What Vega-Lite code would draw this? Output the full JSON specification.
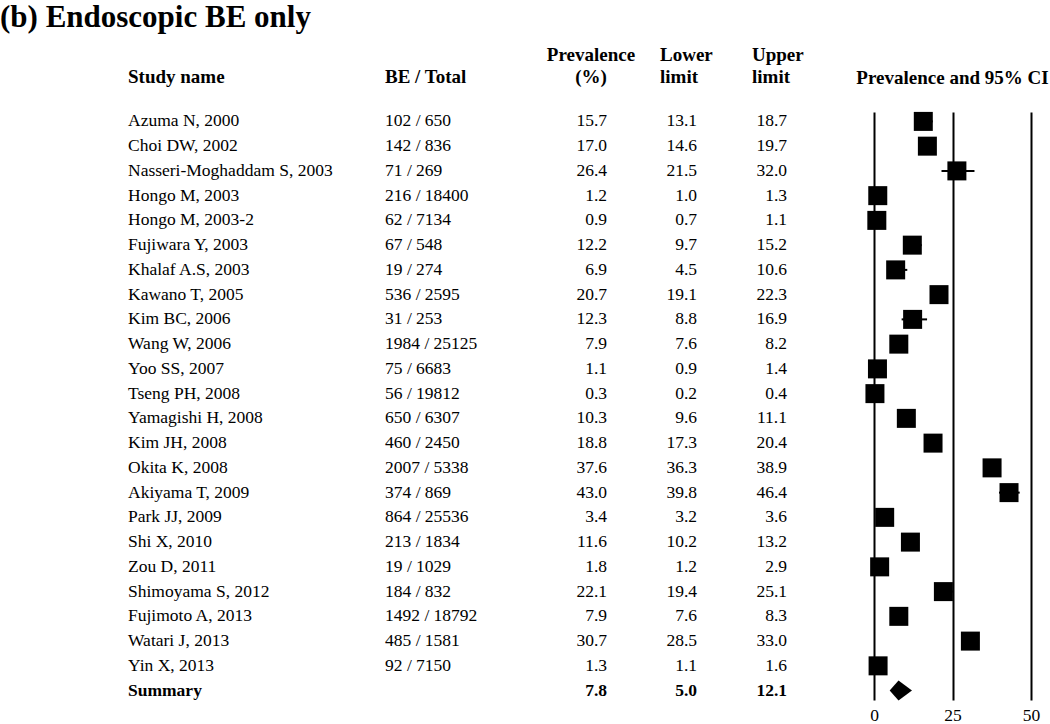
{
  "$schema": "https://vega.github.io/schema/vega-lite/v6.json",
  "padding": {"top": 2, "left": 0, "right": 0, "bottom": 0},
  "background": "white",
  "bounds": "flush",
  "spacing": 0,
  "title": {"text": "(b) Endoscopic BE only", "anchor": "start", "fontSize": 31, "fontWeight": "bold", "font": "Liberation Serif", "color": "black", "offset": 12},
  "config": {"view": {"stroke": null}, "font": "Liberation Serif"},
  "datasets": {
    "rows": [
      {"study": "Azuma N, 2000", "ratio": "102 / 650", "prev": 15.7, "lower": 13.1, "upper": 18.7},
      {"study": "Choi DW, 2002", "ratio": "142 / 836", "prev": 17.0, "lower": 14.6, "upper": 19.7},
      {"study": "Nasseri-Moghaddam S, 2003", "ratio": "71 / 269", "prev": 26.4, "lower": 21.5, "upper": 32.0},
      {"study": "Hongo M, 2003", "ratio": "216 / 18400", "prev": 1.2, "lower": 1.0, "upper": 1.3},
      {"study": "Hongo M, 2003-2", "ratio": "62 / 7134", "prev": 0.9, "lower": 0.7, "upper": 1.1},
      {"study": "Fujiwara Y, 2003", "ratio": "67 / 548", "prev": 12.2, "lower": 9.7, "upper": 15.2},
      {"study": "Khalaf A.S, 2003", "ratio": "19 / 274", "prev": 6.9, "lower": 4.5, "upper": 10.6},
      {"study": "Kawano T, 2005", "ratio": "536 / 2595", "prev": 20.7, "lower": 19.1, "upper": 22.3},
      {"study": "Kim BC, 2006", "ratio": "31 / 253", "prev": 12.3, "lower": 8.8, "upper": 16.9},
      {"study": "Wang W, 2006", "ratio": "1984 / 25125", "prev": 7.9, "lower": 7.6, "upper": 8.2},
      {"study": "Yoo SS, 2007", "ratio": "75 / 6683", "prev": 1.1, "lower": 0.9, "upper": 1.4},
      {"study": "Tseng PH, 2008", "ratio": "56 / 19812", "prev": 0.3, "lower": 0.2, "upper": 0.4},
      {"study": "Yamagishi H, 2008", "ratio": "650 / 6307", "prev": 10.3, "lower": 9.6, "upper": 11.1},
      {"study": "Kim JH, 2008", "ratio": "460 / 2450", "prev": 18.8, "lower": 17.3, "upper": 20.4},
      {"study": "Okita K, 2008", "ratio": "2007 / 5338", "prev": 37.6, "lower": 36.3, "upper": 38.9},
      {"study": "Akiyama T, 2009", "ratio": "374 / 869", "prev": 43.0, "lower": 39.8, "upper": 46.4},
      {"study": "Park JJ, 2009", "ratio": "864 / 25536", "prev": 3.4, "lower": 3.2, "upper": 3.6},
      {"study": "Shi X, 2010", "ratio": "213 / 1834", "prev": 11.6, "lower": 10.2, "upper": 13.2},
      {"study": "Zou D, 2011", "ratio": "19 / 1029", "prev": 1.8, "lower": 1.2, "upper": 2.9},
      {"study": "Shimoyama S, 2012", "ratio": "184 / 832", "prev": 22.1, "lower": 19.4, "upper": 25.1},
      {"study": "Fujimoto A, 2013", "ratio": "1492 / 18792", "prev": 7.9, "lower": 7.6, "upper": 8.3},
      {"study": "Watari J, 2013", "ratio": "485 / 1581", "prev": 30.7, "lower": 28.5, "upper": 33.0},
      {"study": "Yin X, 2013", "ratio": "92 / 7150", "prev": 1.3, "lower": 1.1, "upper": 1.6},
      {"study": "Summary", "ratio": "", "prev": 7.8, "lower": 5.0, "upper": 12.1}
    ],
    "headers": [
      {"col": "study", "line": "2", "h": "Study name"},
      {"col": "ratio", "line": "2", "h": "BE / Total"},
      {"col": "prev", "line": "1", "h": "Prevalence"},
      {"col": "prev", "line": "2", "h": "(%)"},
      {"col": "lower", "line": "1", "h": "Lower"},
      {"col": "lower", "line": "2", "h": "limit"},
      {"col": "upper", "line": "1", "h": "Upper"},
      {"col": "upper", "line": "2", "h": "limit"}
    ]
  },
  "hconcat": [
    {
      "width": 874,
      "height": 588,
      "layer": [
        {
          "data": {"name": "rows"},
          "encoding": {"y": {"field": "study", "type": "nominal", "sort": null, "scale": {"type": "point", "padding": 0.38}, "axis": null}},
          "layer": [
            {
              "transform": [{"filter": "datum.study !== 'Summary'"}, {"fold": ["study", "ratio"], "as": ["col", "val"]}],
              "mark": {"type": "text", "align": "left", "baseline": "middle", "font": "Liberation Serif", "fontSize": 17.5, "color": "black"},
              "encoding": {
                "x": {"field": "col", "type": "nominal", "scale": {"type": "point", "domain": ["study", "ratio"], "range": [128, 385], "padding": 0}, "axis": null},
                "text": {"field": "val", "type": "nominal"}
              }
            },
            {
              "transform": [{"filter": "datum.study === 'Summary'"}, {"fold": ["study"], "as": ["col", "val"]}],
              "mark": {"type": "text", "align": "left", "baseline": "middle", "font": "Liberation Serif", "fontSize": 17.5, "fontWeight": "bold", "color": "black"},
              "encoding": {
                "x": {"field": "col", "type": "nominal", "scale": {"type": "point", "domain": ["study", "ratio"], "range": [128, 385], "padding": 0}, "axis": null},
                "text": {"field": "val", "type": "nominal"}
              }
            },
            {
              "transform": [{"filter": "datum.study !== 'Summary'"}, {"fold": ["prev", "lower", "upper"], "as": ["col", "val"]}],
              "mark": {"type": "text", "align": "right", "baseline": "middle", "font": "Liberation Serif", "fontSize": 17.5, "color": "black"},
              "encoding": {
                "x": {"field": "col", "type": "nominal", "scale": {"type": "point", "domain": ["prev", "lower", "upper"], "range": [607, 787], "padding": 0}, "axis": null},
                "text": {"field": "val", "type": "quantitative", "format": ".1f"}
              }
            },
            {
              "transform": [{"filter": "datum.study === 'Summary'"}, {"fold": ["prev", "lower", "upper"], "as": ["col", "val"]}],
              "mark": {"type": "text", "align": "right", "baseline": "middle", "font": "Liberation Serif", "fontSize": 17.5, "fontWeight": "bold", "color": "black"},
              "encoding": {
                "x": {"field": "col", "type": "nominal", "scale": {"type": "point", "domain": ["prev", "lower", "upper"], "range": [607, 787], "padding": 0}, "axis": null},
                "text": {"field": "val", "type": "quantitative", "format": ".1f"}
              }
            }
          ],
          "resolve": {"scale": {"x": "independent"}}
        },
        {
          "data": {"name": "headers"},
          "encoding": {"y": {"field": "line", "type": "ordinal", "scale": {"type": "point", "domain": ["1", "2"], "range": [-57, -35], "padding": 0}, "axis": null}},
          "layer": [
            {
              "transform": [{"filter": "datum.col === 'study' || datum.col === 'ratio'"}],
              "mark": {"type": "text", "align": "left", "baseline": "middle", "font": "Liberation Serif", "fontSize": 19, "fontWeight": "bold", "color": "black"},
              "encoding": {
                "x": {"field": "col", "type": "nominal", "scale": {"type": "point", "domain": ["study", "ratio"], "range": [128, 385], "padding": 0}, "axis": null},
                "text": {"field": "h", "type": "nominal"}
              }
            },
            {
              "transform": [{"filter": "datum.col === 'lower' || datum.col === 'upper'"}],
              "mark": {"type": "text", "align": "left", "baseline": "middle", "font": "Liberation Serif", "fontSize": 19, "fontWeight": "bold", "color": "black"},
              "encoding": {
                "x": {"field": "col", "type": "nominal", "scale": {"type": "point", "domain": ["lower", "upper"], "range": [660, 752], "padding": 0}, "axis": null},
                "text": {"field": "h", "type": "nominal"}
              }
            },
            {
              "transform": [{"filter": "datum.col === 'prev'"}],
              "mark": {"type": "text", "align": "center", "baseline": "middle", "font": "Liberation Serif", "fontSize": 19, "fontWeight": "bold", "color": "black"},
              "encoding": {
                "x": {"field": "col", "type": "nominal", "scale": {"type": "point", "domain": ["prev"], "range": [591, 591], "padding": 0}, "axis": null},
                "text": {"field": "h", "type": "nominal"}
              }
            }
          ],
          "resolve": {"scale": {"x": "independent"}}
        }
      ],
      "resolve": {"scale": {"x": "independent", "y": "independent"}}
    },
    {
      "width": 157,
      "height": 588,
      "title": {"text": "Prevalence and 95% CI", "fontSize": 19, "fontWeight": "bold", "font": "Liberation Serif", "color": "black", "offset": 24, "anchor": "middle"},
      "data": {"name": "rows"},
      "encoding": {"y": {"field": "study", "type": "nominal", "sort": null, "scale": {"type": "point", "padding": 0.38}, "axis": null}},
      "layer": [
        {
          "transform": [{"filter": "datum.study !== 'Summary'"}],
          "mark": {"type": "rule", "color": "black", "strokeWidth": 2},
          "encoding": {
            "x": {"field": "lower", "type": "quantitative", "scale": {"domain": [0, 50], "nice": false, "zero": false},
                  "axis": {"values": [0, 25, 50], "grid": true, "gridColor": "black", "gridWidth": 2, "gridOpacity": 1, "domain": false, "ticks": false, "labelFont": "Liberation Serif", "labelFontSize": 17.5, "labelColor": "black", "labelPadding": 6, "labelFlush": false, "labelOverlap": false, "labelBound": false, "title": null}},
            "x2": {"field": "upper"}
          }
        },
        {
          "transform": [{"filter": "datum.study !== 'Summary'"}],
          "mark": {"type": "point", "shape": "square", "size": 361, "filled": true, "color": "black", "opacity": 1, "strokeWidth": 0},
          "encoding": {"x": {"field": "prev", "type": "quantitative"}}
        },
        {
          "transform": [{"filter": "datum.study === 'Summary'"}],
          "mark": {"type": "point", "shape": "M-0.88,0L0,-1L1.35,0L0,1Z", "size": 400, "filled": true, "color": "black", "opacity": 1, "strokeWidth": 0},
          "encoding": {"x": {"field": "prev", "type": "quantitative"}}
        }
      ]
    }
  ]
}
